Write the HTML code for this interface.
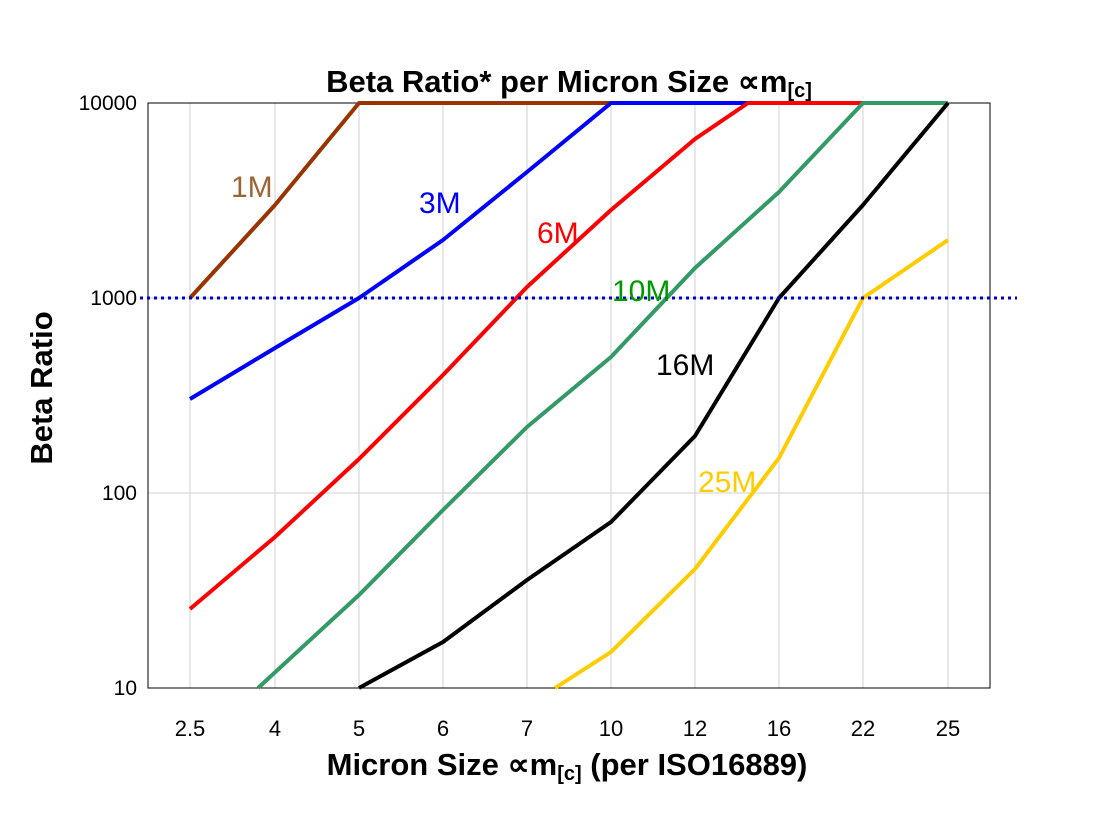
<!DOCTYPE html>
<html><head><meta charset="utf-8"><style>
body{margin:0;background:#fff;}
svg{display:block;font-family:"Liberation Sans",Arial,sans-serif;}
</style></head><body>
<svg width="1108" height="816" viewBox="0 0 1108 816">
<rect width="1108" height="816" fill="#fff"/>
<g stroke="#d0d0d0" stroke-width="1">
<line x1="148" y1="298" x2="990" y2="298"/>
<line x1="148" y1="493" x2="990" y2="493"/>
<line x1="275" y1="103" x2="275" y2="688"/>
<line x1="359" y1="103" x2="359" y2="688"/>
<line x1="443" y1="103" x2="443" y2="688"/>
<line x1="527" y1="103" x2="527" y2="688"/>
<line x1="611" y1="103" x2="611" y2="688"/>
<line x1="695" y1="103" x2="695" y2="688"/>
<line x1="779" y1="103" x2="779" y2="688"/>
<line x1="863" y1="103" x2="863" y2="688"/>
<line x1="948" y1="103" x2="948" y2="688"/>
<line x1="190" y1="103" x2="190" y2="688"/>
</g>
<rect x="148" y="103" width="842" height="585" fill="none" stroke="#000" stroke-width="1"/>
<g fill="none" stroke-width="4" stroke-linejoin="round">
<polyline stroke="#993300" points="190,298 275,205 359,103 948,103"/>
<polyline stroke="#0000ff" points="190,399 275,348 359,298 443,240 527,172 611,103 948,103"/>
<polyline stroke="#ff0000" points="190,609 275,537 359,459 443,375 527,287 611,210 695,139 748,103 948,103"/>
<polyline stroke="#339966" points="258,688 359,595 443,510 527,427 611,357 695,268 779,192 863,103 948,103"/>
<polyline stroke="#000000" points="359,688 443,642 527,580 611,522 695,436 779,298 863,205 948,103"/>
<polyline stroke="#ffcc00" points="555,688 611,652 695,569 779,458 863,298 948,240"/>
</g>
<line x1="140" y1="298" x2="1017" y2="298" stroke="#0000cc" stroke-width="3" stroke-dasharray="3,4"/>
<g font-size="30">
<text x="231" y="197" fill="#996633">1M</text>
<text x="419" y="213" fill="#0000ff">3M</text>
<text x="537" y="243" fill="#ff0000">6M</text>
<text x="612" y="301" fill="#009900">10M</text>
<text x="656" y="375" fill="#000">16M</text>
<text x="698" y="492" fill="#ffcc00">25M</text>
</g>
<g font-size="21" text-anchor="end">
<text x="137" y="110">10000</text>
<text x="137" y="305">1000</text>
<text x="137" y="500">100</text>
<text x="137" y="695">10</text>
</g>
<g font-size="22" text-anchor="middle">
<text x="190" y="736">2.5</text><text x="275" y="736">4</text><text x="359" y="736">5</text>
<text x="443" y="736">6</text><text x="527" y="736">7</text><text x="611" y="736">10</text>
<text x="695" y="736">12</text><text x="779" y="736">16</text><text x="863" y="736">22</text>
<text x="948" y="736">25</text>
</g>
<text x="569" y="92" font-size="31" font-weight="bold" text-anchor="middle">Beta Ratio* per Micron Size ∝m<tspan font-size="20" dy="5">[c]</tspan></text>
<text x="567" y="775" font-size="31" font-weight="bold" text-anchor="middle">Micron Size ∝m<tspan font-size="20" dy="5">[c]</tspan><tspan dy="-5"> (per ISO16889)</tspan></text>
<text transform="translate(52,388) rotate(-90)" font-size="31" font-weight="bold" text-anchor="middle">Beta Ratio</text>
</svg>
</body></html>
